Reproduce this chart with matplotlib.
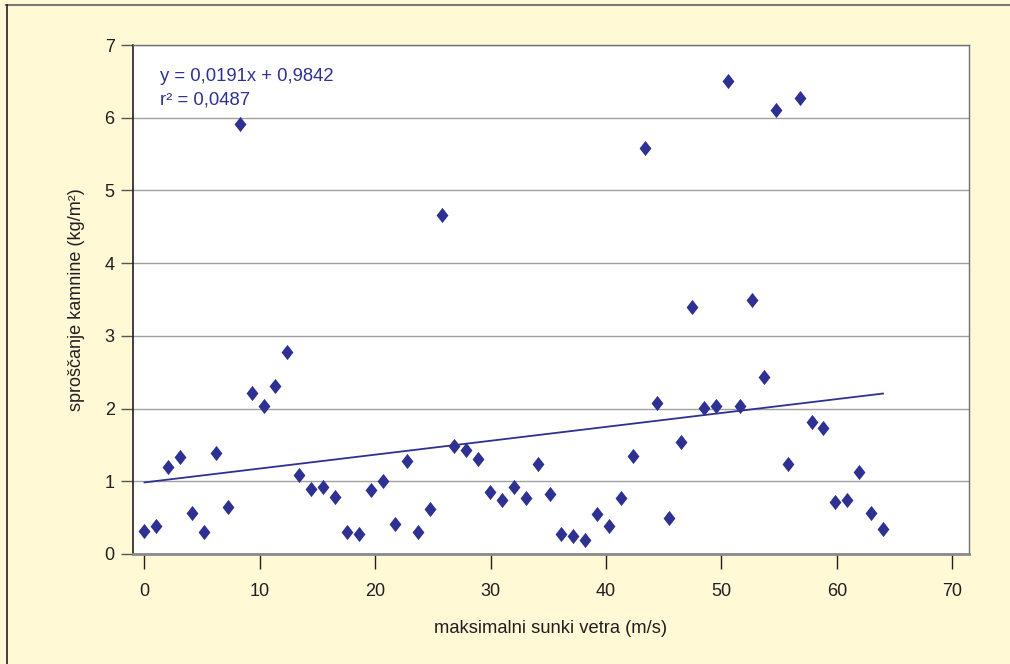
import matplotlib.pyplot as plt
from matplotlib.lines import Line2D

plt.rcParams['font.family'] = ['Liberation Sans', 'DejaVu Sans']

# podatki (odčitani z grafa)
sunki = [
    0.00, 1.03, 2.06, 3.10, 4.13, 5.16, 6.19, 7.23, 8.26, 9.29,
    10.32, 11.35, 12.39, 13.42, 14.45, 15.48, 16.52, 17.55, 18.58, 19.61,
    20.65, 21.68, 22.71, 23.74, 24.77, 25.81, 26.84, 27.87, 28.90, 29.94,
    30.97, 32.00, 33.03, 34.06, 35.10, 36.13, 37.16, 38.19, 39.23, 40.26,
    41.29, 42.32, 43.35, 44.39, 45.42, 46.45, 47.48, 48.52, 49.55, 50.58,
    51.61, 52.65, 53.68, 54.71, 55.74, 56.77, 57.81, 58.84, 59.87, 60.90,
    61.94, 62.97, 64.00
]
kamnina = [
    0.32, 0.38, 1.19, 1.33, 0.57, 0.30, 1.39, 0.64, 5.91, 2.22,
    2.03, 2.31, 2.78, 1.09, 0.89, 0.92, 0.79, 0.30, 0.28, 0.88,
    1.00, 0.41, 1.28, 0.30, 0.62, 4.66, 1.48, 1.43, 1.31, 0.85,
    0.74, 0.92, 0.77, 1.24, 0.83, 0.28, 0.25, 0.19, 0.55, 0.38,
    0.77, 1.35, 5.59, 2.08, 0.49, 1.54, 3.40, 2.01, 2.03, 6.51,
    2.03, 3.49, 2.44, 6.10, 1.24, 6.27, 1.82, 1.73, 0.72, 0.74,
    1.13, 0.57, 0.34
]
# trend: y = 0,0191x + 0,9842
k, n = 0.0191, 0.9842
trend_x = [0, 64]

modra = '#2e3192'
ozadje = '#fff9d6'
tekst = '#231f20'

# romb, malo višji kot širok
romb = [(0, 1), (0.78, 0), (0, -1), (-0.78, 0), (0, 1)]

fig = plt.figure(figsize=(10.10, 6.64), dpi=100, facecolor=ozadje)
ax = fig.add_axes([0.1314, 0.1657, 0.828, 0.7665])
ax.set_facecolor('white')

ax.scatter(sunki, kamnina, marker=romb, s=120, color=modra, linewidths=0, zorder=3)
ax.plot(trend_x, [k * x + n for x in trend_x], color=modra, lw=1.3, zorder=2)

ax.set_xlim(-1.02, 71.45)
ax.set_ylim(0, 7)
ax.set_xticks(range(0, 71, 10))
ax.set_yticks(range(0, 8))
ax.yaxis.grid(True, color='#a0a0a0', lw=1)
ax.set_axisbelow(True)

for s in ['top', 'right']:
    ax.spines[s].set_color('#707070')
    ax.spines[s].set_linewidth(1)
ax.spines['left'].set_color('#231f20')
ax.spines['left'].set_linewidth(1.2)
ax.spines['bottom'].set_color('#8a8a8a')
ax.spines['bottom'].set_linewidth(2)

ax.tick_params(axis='y', direction='out', length=9, width=1, color='#555555',
               labelsize=13, labelcolor=tekst, pad=4)
ax.tick_params(axis='x', direction='out', length=11, width=1, color='#231f20',
               labelsize=13, labelcolor=tekst, pad=10)

ax.set_xlabel('maksimalni sunki vetra (m/s)', fontsize=13.2, color=tekst, labelpad=14)
ax.set_ylabel('sproščanje kamnine (kg/m²)', fontsize=13, color=tekst, labelpad=14)

ax.text(0.033, 0.939, 'y = 0,0191x + 0,9842', transform=ax.transAxes,
        fontsize=13.3, color=modra, va='center')
ax.text(0.033, 0.892, 'r² = 0,0487', transform=ax.transAxes,
        fontsize=13.3, color=modra, va='center')

# okvir slike
fig.add_artist(Line2D([0.006, 1.0], [0.9925, 0.9925], color='#777777', lw=1.5))
fig.add_artist(Line2D([0.0065, 0.0065], [0.0, 0.9925], color='#222222', lw=1.2))

fig.savefig('out.png', dpi=100, facecolor=ozadje)
